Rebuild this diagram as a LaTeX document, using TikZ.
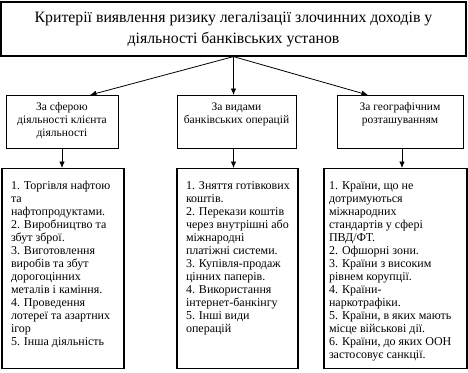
\documentclass[tikz,border=0pt]{standalone}
\usepackage{fontspec}
\setmainfont{Liberation Serif}
\usetikzlibrary{arrows.meta, positioning}
\newcommand{\boxtext}[4][\raggedright]{\parbox[t][#3][t]{#2}{#1#4}}

\begin{document}
\begin{tikzpicture}[x=1pt, y=-1pt, >={Latex[length=6.5pt,width=5.5pt]},
    headbox/.style={draw, line width=1.2pt, minimum width=465pt, minimum height=54pt,
      align=center, inner sep=0pt, font=\fontsize{15.8}{21}\selectfont},
    groupbox/.style={draw, line width=0.9pt, anchor=north, inner xsep=3pt, inner ysep=7pt,
      font=\fontsize{11.5}{13}\selectfont},
    listbox/.style={draw, line width=1.2pt, anchor=north, inner xsep=9pt, inner ysep=13pt,
      font=\fontsize{12}{13}\selectfont}]
  \useasboundingbox (0,0) rectangle (468,372);

  % criteria
  \node[headbox] (crit) at (233.5,29) {Критерії виявлення ризику легалізації злочинних доходів у\\діяльності банківських установ};

  % groups
  \node[groupbox] (g1) at (62,95) {\boxtext[\centering]{106pt}{39pt}{За сферою\\діяльності клієнта\\діяльності}};
  \node[groupbox] (g2) at (236.5,95) {\boxtext[\centering]{113pt}{39pt}{За видами\\банківських операцій}};
  \node[groupbox] (g3) at (400,95) {\boxtext[\centering]{120pt}{39pt}{За географічним\\розташуванням}};

  % lists
  \node[listbox] (l1) at (63,168) {\boxtext{104pt}{174pt}{\mbox{1. Торгівля нафтою}\\та\\нафтопродуктами.\\2. Виробництво та\\збут зброї.\\3. Виготовлення\\виробів та збут\\дорогоцінних\\металів і каміння.\\4. Проведення\\\mbox{лотереї та азартних}\\ігор\\5. Інша діяльність}};
  \node[listbox] (l2) at (237.5,168) {\boxtext{103pt}{174pt}{\mbox{1. Зняття готівкових}\\коштів.\\2. Перекази коштів\\\mbox{через внутрішні або}\\міжнародні\\платіжні системи.\\3. Купівля-продаж\\цінних паперів.\\4. Використання\\інтернет-банкінгу\\5. Інші види\\операцій}};
  \node[listbox, inner xsep=5pt] (l3) at (395.5,168) {\boxtext{133pt}{174pt}{1. Країни, що не\\дотримуються\\міжнародних\\стандартів у сфері\\ПВД/ФТ.\\2. Офшорні зони.\\3. Країни з високим\\рівнем корупції.\\4. Країни-\\наркотрафіки.\\\mbox{5. Країни, в яких мають}\\місце військові дії.\\\mbox{6. Країни, до яких ООН}\\застосовує санкції.}};

  \draw[->, line width=0.8pt] (crit.south) -- ([xshift=28pt]g1.north);
  \draw[->, line width=0.8pt] (crit.south) -- (crit.south |- g2.north);
  \draw[->, line width=0.8pt] (crit.south) -- ([xshift=-32pt]g3.north);

  \draw[->, line width=0.8pt] (g1.south) -- (g1.south |- l1.north);
  \draw[->, line width=0.8pt] ([xshift=-3pt]g2.south) -- ([xshift=-3pt]g2.south |- l2.north);
  \draw[->, line width=0.8pt] ([xshift=2pt]g3.south) -- ([xshift=2pt]g3.south |- l3.north);
\end{tikzpicture}
\end{document}
